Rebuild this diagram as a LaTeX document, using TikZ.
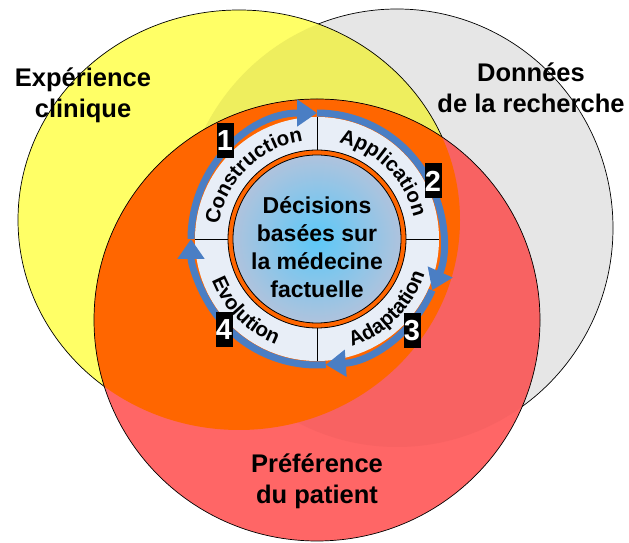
\documentclass[tikz,border=0pt]{standalone}
\usepackage{fontspec}
\setmainfont{Liberation Sans}
\usetikzlibrary{arrows.meta,decorations.text}
\definecolor{vgray}{HTML}{E6E6E6}
\definecolor{vyellow}{HTML}{FFFF66}
\definecolor{vyelgray}{HTML}{EEEE5E}
\definecolor{vred}{HTML}{FF6666}
\definecolor{vredgray}{HTML}{F86262}
\definecolor{vorange}{HTML}{FF6600}
\definecolor{ringfill}{HTML}{E8EEF7}
\definecolor{cycblue}{HTML}{4A7EC4}
\definecolor{coreinner}{HTML}{5CC8F8}
\definecolor{coreouter}{HTML}{AFC3DD}
\newcommand{\ringfont}{\fontsize{20.5}{20.5}\selectfont\bfseries}
\tikzset{
  venn/.style     = {draw=black, line width=0.7pt},
  ringedge/.style = {draw=black, line width=0.8pt},
  divline/.style  = {draw=black, line width=0.8pt},
  cycarrow/.style = {draw=cycblue, line width=7pt, -{Triangle[length=20pt,width=26pt]}},
  zonelbl/.style  = {font=\fontsize{25.5}{31}\selectfont\bfseries, align=center, inner sep=0pt},
  corelbl/.style  = {font=\fontsize{23}{28}\selectfont\bfseries, align=center, inner sep=0pt},
  numbox/.style   = {fill=black, text=white, font=\fontsize{29}{29}\selectfont\bfseries,
                     minimum width=17pt, minimum height=35pt, inner sep=0pt},
  ringtext/.style = {decorate, decoration={text along path, text align=center, text={|\ringfont|#1}}},
}

\begin{document}
\begin{tikzpicture}[x=1pt,y=1pt]
  \useasboundingbox (0,0) rectangle (629,543);
  \coordinate (gc) at (397,315);
  \coordinate (yc) at (239,323);
  \coordinate (rc) at (317,223);
  \coordinate (ctr) at (317,304);

  % three overlapping zones
  \fill[vgray] (gc) ellipse [x radius=216, y radius=219];
  \draw[venn] (gc) ellipse [x radius=216, y radius=219];
  \fill[vyellow] (yc) ellipse [x radius=221, y radius=210];
  \begin{scope}
    \clip (gc) ellipse [x radius=216, y radius=219];
    \fill[vyelgray] (yc) ellipse [x radius=221, y radius=210];
  \end{scope}
  \draw[venn] (yc) ellipse [x radius=221, y radius=210];
  \fill[vred] (rc) ellipse [x radius=223, y radius=221];
  \begin{scope}
    \clip (gc) ellipse [x radius=216, y radius=219];
    \fill[vredgray] (rc) ellipse [x radius=223, y radius=221];
  \end{scope}
  \begin{scope}
    \clip (yc) ellipse [x radius=221, y radius=210];
    \fill[vorange] (rc) ellipse [x radius=223, y radius=221];
  \end{scope}
  \draw[venn] (rc) ellipse [x radius=223, y radius=221];

  % cycle ring
  \fill[ringfill] (ctr) circle [radius=122];
  \filldraw[ringedge, fill=vorange] (ctr) circle [radius=89];
  \shadedraw[ringedge, inner color=coreinner, outer color=coreouter] (ctr) circle [radius=84];
  \foreach \a in {0,90,180,270} {
    \draw[divline] ([shift={(\a:89)}]ctr) -- ([shift={(\a:122)}]ctr);
  }
  \foreach \s/\e in {180/90, 90/-24, -24/-86, 274/180} {
    \draw[cycarrow] ([shift={(\s:126)}]ctr) arc [start angle=\s, end angle=\e, radius=126];
  }

  % step names
  \path[ringtext=Construction] ([shift={(180:99)}]ctr) arc [start angle=180, end angle=90, radius=99];
  \path[ringtext=Application] ([shift={(90:99)}]ctr) arc [start angle=90, end angle=0, radius=99];
  \path[ringtext=Evolution] ([shift={(180:113)}]ctr) arc [start angle=180, end angle=270, radius=113];
  \path[ringtext=Adaptation] ([shift={(270:113)}]ctr) arc [start angle=270, end angle=360, radius=113];

  \node[corelbl] (core) at (317,296) {Décisions\\basées sur\\la médecine\\factuelle};

  \node[numbox] (n1) at (225,402) {1};
  \node[numbox] (n2) at (433,362) {2};
  \node[numbox] (n3) at (412,212) {3};
  \node[numbox] (n4) at (224,213) {4};

  \node[zonelbl] (clin) at (83,448) {Expérience\\clinique};
  \node[zonelbl] (rech) at (531,455) {Données\\de la recherche};
  \node[zonelbl] (pat) at (317,62) {Préférence\\du patient};
\end{tikzpicture}
\end{document}
